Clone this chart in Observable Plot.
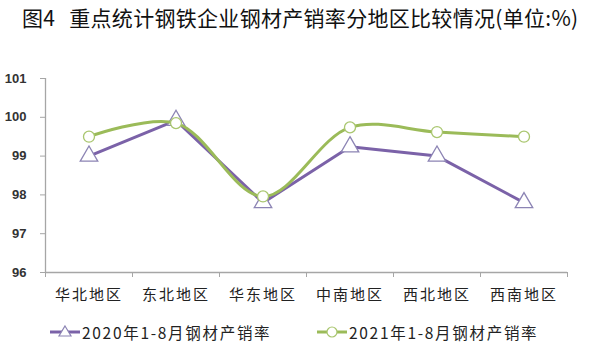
<!DOCTYPE html>
<html>
<head>
<meta charset="utf-8">
<script src="https://cdn.jsdelivr.net/npm/d3@7"></script>
<script src="https://cdn.jsdelivr.net/npm/@observablehq/plot@0.6"></script>
<style>
  body { margin: 0; background: #fff; width: 592px; font-family: "Noto Sans CJK SC", "Liberation Sans", sans-serif; }
  #title { height: 40px; line-height: 35px; font-size: 21px; letter-spacing: 0.3px; padding-left: 22px; color: #111; white-space: nowrap; }
  #title .gap { display: inline-block; width: 14px; }
  #legend { position: relative; height: 30px; margin-top: 16px; font-size: 15.5px; letter-spacing: 1.7px; color: #222; }
  .item { position: absolute; top: 0; display: flex; align-items: center; height: 22px; }
  .item svg { margin-right: 2px; }
</style>
</head>
<body>
<div id="title">图4<span class="gap"></span>重点统计钢铁企业钢材产销率分地区比较情况(单位:%)</div>
<div id="chart"></div>
<div id="legend"></div>
<script>
const regions = ["华北地区", "东北地区", "华东地区", "中南地区", "西北地区", "西南地区"];
const rate2020 = [99.0, 99.92, 97.8, 99.24, 99.0, 97.8];
const rate2021 = [99.5, 99.85, 97.96, 99.74, 99.62, 99.5];
const yTicks = [96, 97, 98, 99, 100, 101];
const seriesNames = ["2020年1-8月钢材产销率", "2021年1-8月钢材产销率"];

const purple = "#7b62a8";
const green = "#9bbb59";
const triStroke = "#8c84b4";
const circStroke = "#a9c66f";
const axisGray = "#a6a6a6";

const d2020 = regions.map((r, i) => ({i, v: rate2020[i]}));
const d2021 = regions.map((r, i) => ({i, v: rate2021[i]}));
const centers = regions.map((r, i) => i);
const bounds = d3.range(regions.length + 1).map(i => i - 0.5);

const chart = Plot.plot({
  width: 592,
  height: 265,
  marginLeft: 45,
  marginRight: 25,
  marginTop: 38,
  marginBottom: 33,
  style: {fontFamily: "'Liberation Sans', Arial, sans-serif", color: "#333", background: "#fff"},
  x: {domain: [-0.5, regions.length - 0.5], axis: null},
  y: {domain: [yTicks[0], yTicks[yTicks.length - 1]], axis: null},
  marks: [
    Plot.ruleX([-0.5], {stroke: axisGray, strokeWidth: 1.3}),
    Plot.ruleY([yTicks[0]], {stroke: axisGray, strokeWidth: 1.3}),
    Plot.axisY({ticks: yTicks, tickSize: 5, tickPadding: 14, stroke: axisGray, label: null,
      fontSize: 13, fontWeight: "bold", fill: "#333", tickFormat: d => String(d)}),
    Plot.axisX({ticks: bounds, tickSize: 5, stroke: axisGray, label: null, tickFormat: () => ""}),
    Plot.axisX({ticks: centers, tickSize: 0, tickPadding: 17, fontSize: 15, fill: "#222", label: null,
      fontFamily: "'Noto Sans CJK SC', sans-serif", tickFormat: i => regions[i]}),
    Plot.line(d2020, {x: "i", y: "v", stroke: purple, strokeWidth: 3}),
    Plot.dot(d2020, {x: "i", y: "v", symbol: "triangle", r: 6.5, fill: "white", stroke: triStroke, strokeWidth: 1.3}),
    Plot.line(d2021, {x: "i", y: "v", stroke: green, strokeWidth: 3, curve: "catmull-rom"}),
    Plot.dot(d2021, {x: "i", y: "v", symbol: "circle", r: 5.5, fill: "white", stroke: circStroke, strokeWidth: 1.3})
  ]
});
document.getElementById("chart").appendChild(chart);
d3.select(chart).selectAll("text").filter(function() {
  return regions.includes(this.textContent);
}).attr("letter-spacing", "2px");

const legend = document.getElementById("legend");
const items = [
  {name: seriesNames[0], color: purple, mstroke: triStroke, shape: "tri", left: 50},
  {name: seriesNames[1], color: green, mstroke: circStroke, shape: "circ", left: 317}
];
for (const it of items) {
  const div = document.createElement("div");
  div.className = "item";
  div.style.left = it.left + "px";
  const marker = it.shape === "tri"
    ? `<path d="M15,5 L21,15 L9,15 Z" fill="white" stroke="${it.mstroke}" stroke-width="1.2"/>`
    : `<circle cx="15" cy="11" r="5" fill="white" stroke="${it.mstroke}" stroke-width="1.2"/>`;
  div.innerHTML = `<svg width="30" height="22"><line x1="0" x2="30" y1="11" y2="11" stroke="${it.color}" stroke-width="3"/>${marker}</svg><span>${it.name}</span>`;
  legend.appendChild(div);
}
</script>
</body>
</html>
